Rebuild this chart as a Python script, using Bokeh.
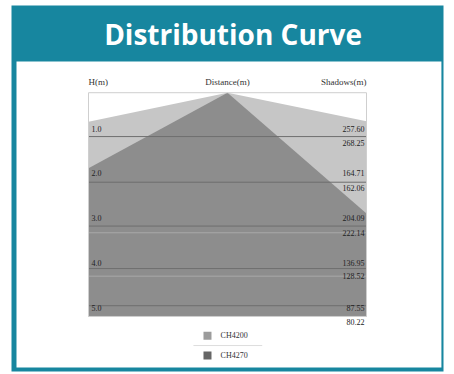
from bokeh.plotting import figure
from bokeh.models import Range1d
from bokeh.core.properties import value
from bokeh.embed import file_html
from bokeh.resources import INLINE

# ---- data ----
title_text = "Distribution Curve"
series_names = ["CH4200", "CH4270"]
columns = ["H(m)", "Distance(m)", "Shadows(m)"]
col_pos = [0, 1, 2]
depth_top = 0.2
depth_bottom = 5.2
light_edge = [0.85, 0.2, 0.84]   # CH4200 boundary (left, apex, right)
dark_edge = [1.89, 0.2, 2.9]     # CH4270 boundary (left, apex, right)
level_labels = ["1.0", "2.0", "3.0", "4.0", "5.0"]
level_pos = [1.0, 2.0, 3.0, 4.0, 5.0]
right_values = ["257.60", "268.25", "164.71", "162.06", "204.09",
                "222.14", "136.95", "128.52", "87.55", "80.22"]
right_pos = [1.0, 1.33, 2.0, 2.33, 3.0, 3.33, 4.0, 4.3, 5.0, 5.33]
rule_pos = [1.18, 2.2, 3.18, 4.13, 4.96]
rule_pos_light = [3.33, 4.3]

TEAL = "#17869f"
LIGHT = "#c6c6c6"
DARK = "#8d8d8d"

p = figure(width=454, height=374, output_backend="svg", toolbar_location=None,
           x_range=Range1d(-0.554, 2.554), y_range=Range1d(6.43, -1.749),
           min_border_left=11, min_border_right=11, min_border_top=5,
           min_border_bottom=3)
p.axis.visible = False
p.grid.visible = False
p.outline_line_color = None
p.border_fill_color = "white"
p.background_fill_color = TEAL

# white inner panel
p.quad(left=[-0.518], right=[2.539], top=[-0.497], bottom=[6.341],
       fill_color="white", line_color=None)

# title
p.text(x=[1.04], y=[-1.123], text=[title_text], text_font=value("Open Sans"),
       text_font_style="bold", text_font_size="28px", text_align="center",
       text_baseline="middle", text_color="white")

# series areas
xs = col_pos + [col_pos[2], col_pos[0]]
p.patch(xs, light_edge + [depth_bottom, depth_bottom],
        fill_color=LIGHT, line_color=None)
p.patch(xs, dark_edge + [depth_bottom, depth_bottom],
        fill_color=DARK, line_color=None)

# rules
p.segment(x0=[col_pos[0]] * len(rule_pos), x1=[col_pos[2]] * len(rule_pos),
          y0=rule_pos, y1=rule_pos, line_color="#6e6e6e", line_width=1)
p.segment(x0=[col_pos[0]] * len(rule_pos_light), x1=[col_pos[2]] * len(rule_pos_light),
          y0=rule_pos_light, y1=rule_pos_light, line_color="#a8a8a8", line_width=1)

# frame
p.quad(left=[col_pos[0]], right=[col_pos[2]], top=[depth_top], bottom=[depth_bottom],
       fill_color=None, line_color="#cfcfcf", line_width=1)

FONT = value("Liberation Serif")
# header labels
p.text(x=[col_pos[0]], y=[-0.05], text=[columns[0]], text_font=FONT,
       text_font_size="9px", text_align="left", text_baseline="middle", text_color="#333333")
p.text(x=[col_pos[1]], y=[-0.05], text=[columns[1]], text_font=FONT,
       text_font_size="9px", text_align="center", text_baseline="middle", text_color="#333333")
p.text(x=[col_pos[2]], y=[-0.05], text=[columns[2]], text_font=FONT,
       text_font_size="9px", text_align="right", text_baseline="middle", text_color="#333333")

# level labels
p.text(x=[col_pos[0]] * len(level_pos), y=level_pos, text=level_labels, text_font=FONT,
       text_font_size="8px", text_align="left", text_baseline="middle",
       x_offset=3, text_color="#222222")
p.text(x=[col_pos[2]] * len(right_pos), y=right_pos, text=right_values, text_font=FONT,
       text_font_size="8px", text_align="right", text_baseline="middle",
       x_offset=-2, text_color="#222222")

# legend
leg_y = [5.63, 6.07]
p.rect(x=[0.856, 0.856], y=leg_y, width=8, height=8, width_units="screen",
       height_units="screen", fill_color=["#9c9c9c", "#666666"], line_color=None)
p.text(x=[0.95, 0.95], y=leg_y, text=series_names, text_font=FONT,
       text_font_size="8px", text_align="left", text_baseline="middle", text_color="#333333")
p.segment(x0=[0.755], x1=[1.25], y0=[5.85], y1=[5.85], line_color="#dddddd", line_width=1)

open("out.html", "w").write(file_html(p, INLINE))
